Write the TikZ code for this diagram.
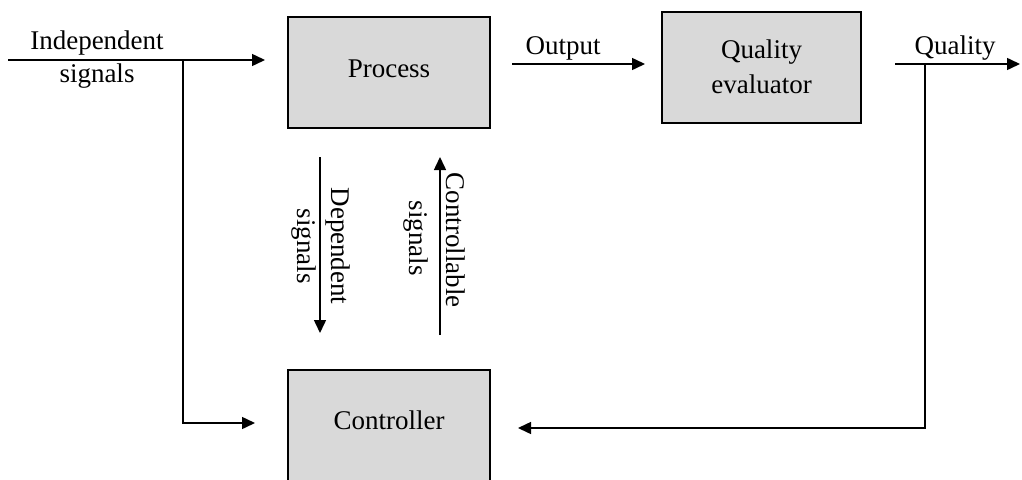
\documentclass[tikz,border=0pt]{standalone}
\usepackage{fontspec}
\setmainfont{Liberation Serif}
\usetikzlibrary{arrows.meta}
\definecolor{boxgray}{HTML}{D9D9D9}
\tikzset{
  blk/.style={draw=black, line width=2pt, fill=boxgray, inner sep=0pt, align=center},
  conn/.style={line width=1.5pt, -{Triangle[length=13pt,width=12pt]}},
  wire/.style={line width=1.5pt},
  lbl/.style={align=center, inner sep=0pt},
}
\begin{document}
\begin{tikzpicture}[x=1pt,y=-1pt, font=\fontsize{27}{35}\selectfont]
\useasboundingbox (0,0) rectangle (1022,479);
% blocks
\node[blk, minimum width=202pt, minimum height=111pt] (process) at (389,72.5) {};
\node[lbl] (proctext) at (389,69) {Process};
\node[blk, minimum width=199pt, minimum height=111pt] (qe) at (761.5,67.5) {};
\node[lbl] (qetext) at (761.5,67) {Quality\\evaluator};
\node[blk, minimum width=202pt, minimum height=116pt] (ctrl) at (389,428) {};
\node[lbl] (ctrltext) at (389,420) {Controller};
% coordinates
\coordinate (inS) at (8,60);
\coordinate (inE) at (265,60);
\coordinate (br1) at (183,60);
\coordinate (br1b) at (183,423);
\coordinate (ctrlIn) at (255,423);
\coordinate (outS) at (512,64);
\coordinate (outE) at (645,64);
\coordinate (qS) at (895,64);
\coordinate (qE) at (1020,64);
\coordinate (br2) at (925,64);
\coordinate (br2b) at (925,428);
\coordinate (fbE) at (518,428);
\coordinate (depS) at (320,157);
\coordinate (depE) at (320,333);
\coordinate (conS) at (440,335);
\coordinate (conE) at (440,157);
% connectors
\draw[conn] (inS) -- (inE);
\draw[conn] (br1) -- (br1b) -- (ctrlIn);
\draw[conn] (outS) -- (outE);
\draw[conn] (qS) -- (qE);
\draw[conn] (br2) -- (br2b) -- (fbE);
\draw[conn] (depS) -- (depE);
\draw[conn] (conS) -- (conE);
% labels
\node[lbl] (l1) at (97,43) {Independent};
\node[lbl] (l2) at (97,76) {signals};
\node[lbl] (l3) at (563,48) {Output};
\node[lbl] (l4) at (955,48) {Quality};
\node[lbl, rotate=-90] (l5) at (338,246) {Dependent};
\node[lbl, rotate=-90] (l6) at (304,246) {signals};
\node[lbl, rotate=-90] (l7) at (456,240) {Controllable};
\node[lbl, rotate=-90] (l8) at (416,238) {signals};
\end{tikzpicture}
\end{document}
